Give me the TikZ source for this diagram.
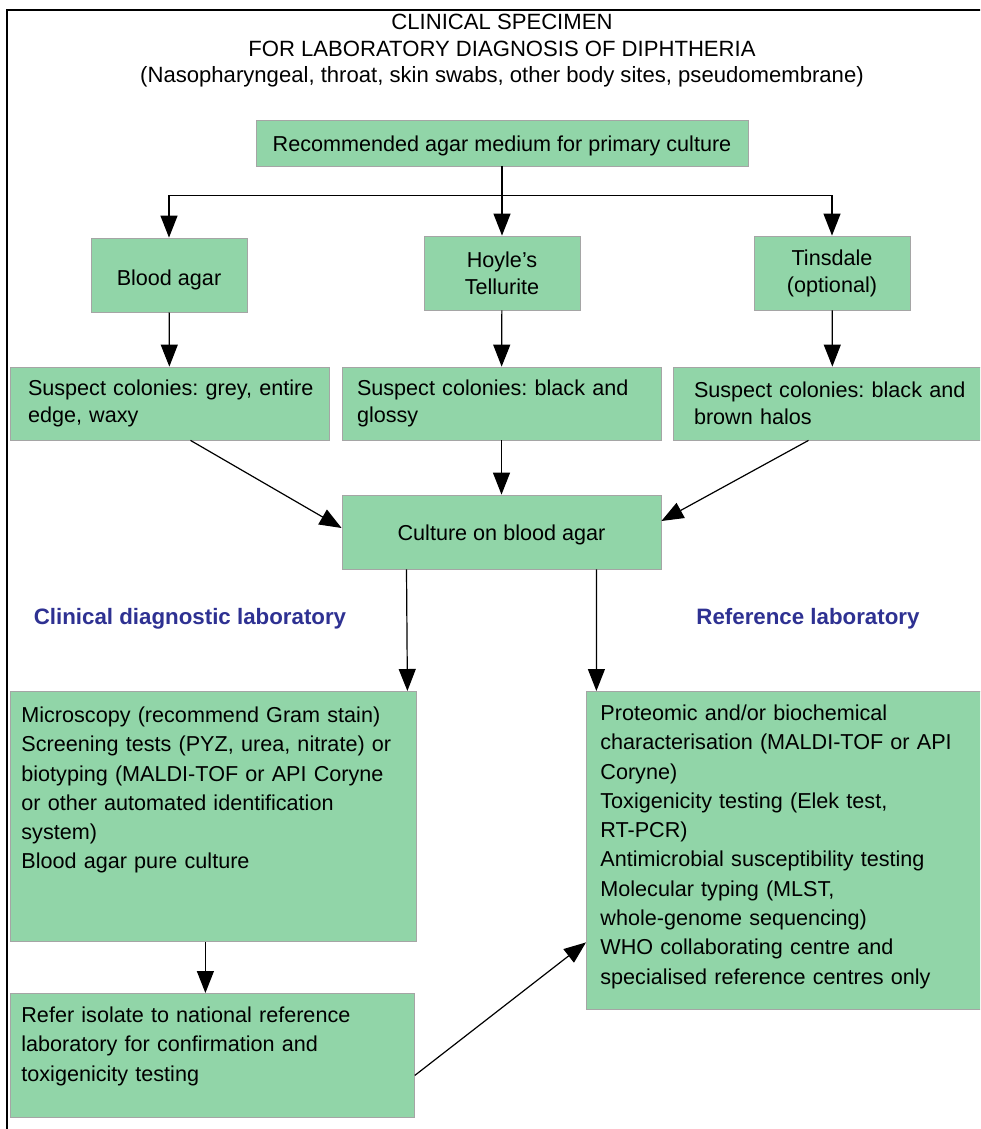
\documentclass[tikz,border=0pt]{standalone}
\usepackage{fontspec}
\setmainfont{Liberation Sans}
\usetikzlibrary{arrows.meta,positioning,calc}
\definecolor{agar}{RGB}{145,213,168}
\definecolor{edgegray}{RGB}{165,165,165}
\definecolor{labblue}{RGB}{46,49,146}
\newcommand{\bodyfont}{\frenchspacing\fontsize{21.6}{27}\selectfont}
\newcommand{\listfont}{\frenchspacing\fontsize{21.6}{29.3}\selectfont}

\begin{document}
\begin{tikzpicture}[
  x=1pt, y=-1pt,
  box/.style={draw=edgegray, line width=0.8pt, fill=agar, inner sep=0pt,
              align=center, font=\bodyfont},
  onebox/.style={box, text height=16pt, text depth=0pt},
  susbox/.style={box, minimum width=319pt, minimum height=73pt, align=left},
  listbox/.style={box, anchor=north west, align=left, inner xsep=11pt,
                  inner ysep=8pt, text height=23pt, font=\listfont},
  lablbl/.style={font=\frenchspacing\fontsize{22.3}{27}\selectfont\bfseries, text=labblue},
  arr/.style={draw, line width=1.2pt, -{Triangle[length=22pt, width=17pt]}},
  frame/.style={line width=2.4pt}
]
\useasboundingbox (0,0) rectangle (980,1129);
\clip (0,0) rectangle (980,1129);
\draw[frame] (7,1140) -- (7,10) -- (995,10);

\node[align=center, font=\frenchspacing\fontsize{22.1}{26.5}\selectfont] (title) at (502,51)
  {CLINICAL SPECIMEN\\FOR LABORATORY DIAGNOSIS OF DIPHTHERIA\\
   (Nasopharyngeal, throat, skin swabs, other body sites, pseudomembrane)};

% primary culture media
\node[onebox, minimum width=492pt, minimum height=46pt] (medium) at (502,143)
  {Recommended agar medium for primary culture};
\node[onebox, text height=20pt, minimum width=156pt, minimum height=74pt] (blood) at (169,275) {Blood agar};
\node[box, minimum width=156pt, minimum height=74pt] (hoyle) at (502,273) {Hoyle's\\Tellurite};
\node[box, minimum width=156pt, minimum height=74pt] (tinsdale) at (832,273) {Tinsdale\\(optional)};

% suspect colonies
\node[susbox, inner xsep=18pt, text width=283pt] (susp1) at (169.5,403.5)
  {\mbox{Suspect colonies: grey, entire}\\edge, waxy};
\node[susbox, inner xsep=15pt, text width=289pt] (susp2) at (501.5,403.5)
  {Suspect colonies: black and\\glossy};
\node[susbox, inner xsep=21pt, text width=277pt] (susp3) at (832.5,403.5)
  {Suspect colonies: black and\\brown halos};
\node[onebox, minimum width=319pt, minimum height=74pt] (culture) at (501.5,532)
  {Culture on blood agar};

\node[lablbl] (clinlab) at (190,619) {Clinical diagnostic laboratory};
\node[lablbl] (reflab) at (808,619) {Reference laboratory};

% laboratory work-up
\node[listbox, text width=384pt, text depth=211pt] (clin) at (10,691)
  {Microscopy (recommend Gram stain)\\
   Screening tests (PYZ, urea, nitrate) or\\
   biotyping (MALDI-TOF or API Coryne\\
   or other automated identification\\
   system)\\
   Blood agar pure culture};
\node[listbox, inner xsep=14pt, text width=378pt, text height=21pt, text depth=281pt] (ref) at (586,691)
  {Proteomic and/or biochemical\\
   characterisation (MALDI-TOF or API\\
   Coryne)\\
   Toxigenicity testing (Elek test,\\
   RT-PCR)\\
   Antimicrobial susceptibility testing\\
   Molecular typing (MLST,\\
   whole-genome sequencing)\\
   WHO collaborating centre and\\
   specialised reference centres only};
\node[listbox, text width=382pt, text height=21pt, text depth=87pt] (refer) at (10,993)
  {Refer isolate to national reference\\
   laboratory for confirmation and\\
   toxigenicity testing};

% connectors
\draw[line width=1.2pt] (medium.south) -- ++(0,29) coordinate (split);
\draw[arr] (split) -| (blood.north);
\draw[arr] (split) -- (hoyle.north);
\draw[arr] (split) -| (tinsdale.north);
\draw[arr] (blood) -- (susp1);
\draw[arr] (hoyle) -- (susp2);
\draw[arr] (tinsdale) -- (susp3);
\draw[arr] ([xshift=21pt]susp1.south) -- ([yshift=4pt]culture.west);
\draw[arr] (susp2) -- (culture);
\draw[arr] ([xshift=-24pt]susp3.south) -- ([yshift=11pt]culture.east);
\draw[arr] ([xshift=-95pt]culture.south) -- ([xshift=194pt]clin.north);
\draw[arr] ([xshift=95pt]culture.south) -- ([xshift=-193pt]ref.north);
\draw[arr] ([xshift=-8pt]clin.south) -- ([xshift=-7pt]refer.north);
\draw[arr] ([yshift=-20pt]refer.east) -- ([yshift=-92pt]ref.west);
\end{tikzpicture}
\end{document}
